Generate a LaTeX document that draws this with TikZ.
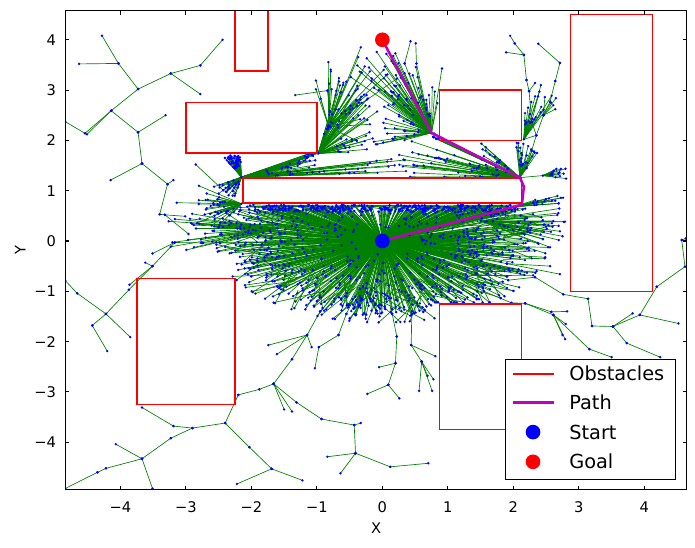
\documentclass[tikz,border=0pt]{standalone}
\usepackage{fontspec}
\setmainfont{DejaVu Sans}
\definecolor{treegreen}{RGB}{0,128,0}
\definecolor{pathmag}{RGB}{191,0,191}

% random fan of branches from a hub: mode (0 branches, 1 vertices), hub, angle range, length range, count
\newcommand\spray[7]{%
  \foreach \k in {1,...,#7}{%
    \pgfmathsetmacro\ang{(#3)+((#4)-(#3))*rnd}%
    \pgfmathsetmacro\len{(#5)+((#6)-(#5))*rnd}%
    \ifnum#1=0 \draw[branch] (#2) -- ++(\ang:\len);%
    \else \fill[vert] (#2) ++(\ang:\len) circle (1pt);\fi
  }}

% the dense part of the tree
\newcommand\treepass[1]{%
  \foreach \k in {1,...,850}{%
    \pgfmathsetmacro\ang{360*rnd}%
    \pgfmathsetmacro\rr{0.15+0.85*sqrt(rnd)}%
    \pgfmathsetmacro\sx{2.35*\rr*cos(\ang)}%
    \pgfmathsetmacro\sy{min(1.5*\rr*sin(\ang),0.72-0.14*rnd)}%
    \pgfmathsetmacro\sy{\sx>0.8 ? max(\sy,-1.22) : \sy}%
    \ifnum#1=0 \draw[branch] (s) -- (\sx,\sy);%
    \else \fill[vert] (\sx,\sy) circle (1pt);\fi
  }%
  \foreach \k in {1,...,300}{%
    \pgfmathsetmacro\ang{360*rnd}%
    \pgfmathsetmacro\ra{0.45+0.4*rnd}%
    \pgfmathsetmacro\rb{min(\ra+0.15+0.35*rnd,1.08)}%
    \pgfmathsetmacro\ab{\ang-15+30*rnd}%
    \pgfmathsetmacro\ax{2.35*\ra*cos(\ang)}%
    \pgfmathsetmacro\ay{min(1.5*\ra*sin(\ang),0.7)}%
    \pgfmathsetmacro\ay{\ax>0.8 ? max(\ay,-1.22) : \ay}%
    \pgfmathsetmacro\bx{2.35*\rb*cos(\ab)}%
    \pgfmathsetmacro\by{min(1.5*\rb*sin(\ab),0.72-0.1*rnd)}%
    \pgfmathsetmacro\by{\bx>0.8 ? max(\by,-1.22) : \by}%
    \ifnum#1=0 \draw[branch] (\ax,\ay) -- (\bx,\by);%
    \else \fill[vert] (\bx,\by) circle (1pt);\fi
  }%
  \spray{#1}{lu}{92}{125}{0.2}{0.47}{55}%
  \spray{#1}{lu}{3}{22}{0.4}{1.2}{35}%
  \spray{#1}{lu}{2}{9}{1.2}{2.6}{18}%
  \spray{#1}{lu}{200}{258}{0.1}{0.5}{30}%
  \spray{#1}{lu}{21}{25}{1.05}{1.18}{10}%
  \spray{#1}{lc}{150}{235}{0.2}{0.8}{35}%
  \spray{#1}{h0}{40}{80}{0.4}{1.5}{28}%
  \spray{#1}{h0}{0}{35}{0.3}{0.9}{18}%
  \spray{#1}{h0}{70}{76}{0.5}{0.58}{10}%
  \spray{#1}{h1}{40}{105}{0.3}{1.5}{32}%
  \spray{#1}{g0}{100}{140}{0.4}{1.9}{50}%
  \spray{#1}{g0}{140}{200}{0.2}{0.9}{25}%
  \spray{#1}{g0}{88}{100}{0.3}{1.0}{10}%
  \spray{#1}{rc}{152}{180}{0.3}{1.9}{45}%
  \spray{#1}{rc}{130}{152}{0.2}{0.9}{20}%
  \spray{#1}{rc}{146}{149}{1.45}{1.6}{10}%
  \spray{#1}{rc}{60}{100}{0.2}{0.7}{25}%
  \spray{#1}{rk}{60}{90}{0.3}{1.0}{22}%
  \spray{#1}{rm}{-10}{35}{0.1}{0.38}{18}%
  \spray{#1}{rr}{0}{22}{0.3}{0.8}{18}%
  \spray{#1}{ra}{-30}{12}{0.6}{1.3}{30}%
  \spray{#1}{la}{165}{200}{0.6}{1.7}{35}%
  \spray{#1}{lb}{235}{305}{0.2}{0.7}{20}%
}

\newcommand\treenodes{s/0/0, t/0/4, lu/-2.15/1.27, lc/-2.15/0.74, h0/-0.98/1.74, h1/-0.82/2.27,
  g0/0.75/2.15, rc/2.1/1.26, rk/2.16/2.02, rm/2.45/1.3, rr/2.0/0.68, ra/1.5/0.4, la/-1.6/0.25,
  lb/-0.3/-0.9, p1/2.13/0.72, p2/2.16/1.08,
  k1/-2.58/0.75, k2/-2.43/1.01, k3/-2.74/-0.04, k5/-0.95/-1.40, k6/-0.55/-1.45, k7/0.15/-1.45,
  k8/0.45/-1.40, k9/1.55/-1.0, k11/1.9/-0.45, k12/2.2/1.45,
  a1/-4.28/4.08, a2/-4.03/3.53, a3/-4.63/3.52, a4/-3.73/3.02, a5/-3.23/3.33, a6/-2.78/3.49,
  a7/-2.44/4.00, a8/-2.78/2.92, a9/-4.14/2.59, a10/-4.54/2.14, a11/-4.51/2.12, a12/-4.84/2.37,
  a13/-3.73/2.16, a14/-3.31/2.50, a15/-3.67/1.54, a16/-4.15/1.21, a17/-3.28/1.13, a18/-3.19/1.21,
  a19/-3.40/0.53, a20/-3.32/0.52, a21/-3.01/0.49, a22/-2.96/0.14, a23/-3.14/0.76, a24/-2.85/1.52,
  a25/-3.17/-0.03, a26/-3.51/-0.25,
  b1/-4.84/-0.79, b2/-4.66/-1.04, b3/-4.22/-1.45, b4/-3.85/-1.91, b5/-4.43/-1.68, b6/-4.20/-2.19,
  b7/-3.87/-0.97, b8/-3.86/-0.87, b9/-3.51/-0.50, b10/-3.62/-0.43,
  b11/-3.67/-3.31, b12/-3.19/-3.68, b13/-2.90/-3.72, b14/-2.40/-3.62, b15/-2.20/-3.06,
  b16/-1.88/-2.95, b17/-2.03/-4.10, b18/-3.23/-3.92, b19/-3.67/-4.33, b20/-4.07/-4.04,
  b21/-3.51/-4.92, b22/-4.22/-4.52, b23/-4.35/-4.60, b24/-4.84/-4.92, b25/-2.22/-4.83,
  c1/-1.15/-1.87, c2/-1.38/-2.35, c3/-1.66/-2.84, c5/-1.50/-3.35, c6/-1.38/-3.39, c7/-1.31/-3.21,
  c8/-0.93/-3.54, c9/-0.43/-3.66, c10/-0.33/-3.62, c11/-0.41/-4.22, c12/-0.84/-4.29,
  c13/-0.64/-4.62, c14/0.12/-4.49, c15/0.70/-4.42, c16/-1.69/-4.53, c17/-1.22/-4.76,
  c19/0.09/-2.86, c20/0.20/-2.43, c21/-0.05/-2.51, c22/-0.23/-3.04, c23/0.26/-3.13,
  c24/0.22/-1.90, c25/0.60/-2.40, c26/0.44/-2.07, c27/0.56/-2.98, c28/0.76/-2.98,
  c29/0.78/-2.75, c30/0.69/-2.68, c31/0.81/-2.29, c32/-1.03/-2.53, c33/-0.97/-2.11,
  c34/-1.08/-2.11, c35/-1.61/-2.25, c36/-0.67/-1.87, c38/-1.74/-2.07,
  d1/1.97/-1.23, d2/2.18/-1.24, d3/2.58/-1.41, d4/2.82/-1.40, d5/2.61/-1.47, d6/2.80/-1.65,
  d7/2.75/-1.87, d8/2.79/-1.95, d9/3.16/-2.15, d10/2.76/-1.06, d11/3.14/-1.15, d12/3.20/-1.69,
  d13/3.52/-1.70, d14/3.73/-2.03, d15/3.82/-1.44, d16/3.93/-1.47, d17/4.52/-1.64,
  d18/4.19/-0.91, d19/4.62/-0.51, d20/4.24/-2.31, d21/3.50/-2.31, d22/2.71/-0.66,
  d23/2.56/-0.50, d24/2.33/-0.72, d25/1.92/-0.78, d26/4.57/0.02, d27/4.63/0.05,
  e1/2.38/3.92, e2/2.71/3.54, e3/2.64/3.18, e4/2.56/2.77, e5/2.65/2.84, e6/2.46/2.50,
  e7/1.95/4.08, e8/2.02/3.93, e9/2.16/3.70, e10/2.20/3.20, e11/2.33/3.14, e12/2.42/3.10,
  e13/2.24/2.98, e14/2.48/2.86, e15/2.28/2.37, e16/2.61/2.70, e17/2.64/2.62, e18/1.89/3.75,
  e19/2.35/2.10,
  f1/-0.33/3.85, f2/-1.33/2.90, f3/-0.84/2.99, f4/-0.80/2.57, f5/-0.19/3.37, f6/-0.27/3.47,
  f7/-0.24/2.90, f8/-0.19/2.32, f9/-0.34/2.42, f10/-0.39/1.99, f11/-0.55/3.17, f12/-0.60/3.10,
  f13/-0.40/2.80,
  g1/0.43/3.97, g2/0.51/3.93, g3/0.34/3.53, g4/0.52/3.53, g5/0.91/3.43, g6/0.80/2.97,
  g7/0.84/2.74, g8/0.04/2.97, g9/0.09/2.70, g10/0.04/2.24, g11/0.19/2.07, g12/0.17/3.53,
  g13/0.06/3.72}

\newcommand\treeedges{a1/a2, a3/a2, a2/a4, a4/a5, a5/a6, a6/a7, a5/a8, a4/a9, a9/a10, a9/a11,
  a10/a12, a9/a13, a13/a14, a13/a15, a15/a16, a15/a17, a17/a18, a17/a19, a19/a20, a20/a21,
  a20/a22, a23/k1, k1/lc, a24/k2, k2/lu, a25/k3, k3/s, a26/a25,
  b1/b2, b2/b3, b3/b4, b3/b5, b5/b6, b3/b7, b7/b9, b8/b9, b10/b9, b9/a25,
  b11/b12, b12/b13, b13/b14, b14/b15, b15/b16, b14/b17, b13/b18, b18/b19, b20/b19, b19/b21,
  b19/b22, b22/b23, b23/b24, b25/c16,
  c1/c2, c2/c3, c3/b16, c3/c5, c3/c6, c3/c7, c7/c8, c8/c9, c9/c10, c9/c11, c11/c12, c11/c13,
  c11/c14, c14/c15, b17/c16, c16/c17, c19/c20, c20/c21, c19/c22, c19/c23, c20/c24, c26/c25,
  c25/c27, c25/c28, c25/c29, c25/c30, c26/c31, c33/c32, c1/c34, c1/c35, c1/c38, c33/c36,
  c1/k5, k5/s, c36/k6, k6/s, c24/k7, k7/s, c26/k8, k8/s,
  d1/d2, d2/d3, d3/d4, d2/d5, d5/d6, d5/d7, d5/d8, d5/d9, d9/d21, d24/d10, d10/d11, d11/d12,
  d12/d13, d13/d14, d13/d15, d13/d16, d16/d17, d16/d18, d18/d19, d19/d26, d26/d27, d14/d20,
  d1/k9, k9/s, d24/d25, d25/s, d22/k11, d23/k11, k11/s,
  e1/e2, e2/e3, e3/e4, e4/e6, e5/e6, e16/e6, e17/e6, e14/e6, e6/e19, e7/e8, e8/e9, e18/e9,
  e9/e10, e10/e13, e11/e13, e12/e15, e13/e15, e15/e19, e19/k12, k12/rc, rk/e19,
  f2/f3, f3/f4, f4/h1, h1/f1, h1/f5, h1/f6, h1/f7, h1/f8, h1/f9, h1/f10, h1/f11, h1/f12, h1/f13,
  h0/h1, lu/h0,
  g0/g3, g3/g1, g0/g4, g4/g2, g0/g5, g0/g6, g0/g7, g0/g8, g0/g9, g0/g10, g0/g11, g0/g12,
  g12/g13, rc/g0, g0/t, s/p1, p1/p2, p2/rc, rc/rm,
  s/la, s/lb, s/ra, s/rr}

\begin{document}
\begin{tikzpicture}[x=49.125pt,y=37.725pt,
  branch/.style={draw=treegreen,line width=0.5pt},
  vert/.style={fill=blue},
  obst/.style={color=red,line width=1.15pt},
  route/.style={color=pathmag,line width=1.9pt,line join=round},
  startdot/.style={circle,fill=blue,inner sep=0pt,minimum size=11pt},
  goaldot/.style={circle,fill=red,inner sep=0pt,minimum size=11pt},
  axis/.style={draw=black,line width=0.8pt},
  ticklab/.style={font=\fontsize{11}{13}\selectfont,inner sep=1pt},
  legtext/.style={font=\fontsize{14.5}{17}\selectfont,anchor=west,inner sep=0pt}]
\useasboundingbox (-5.838,-6.103) rectangle (4.773,4.791);

\coordinate (ll) at (-4.84,-4.95);
\coordinate (ur) at (4.65,4.58);
\foreach \n/\x/\y in \treenodes {\coordinate (\n) at (\x,\y);}

% tree and its vertices inside the axes
\begin{scope}
\clip (ll) rectangle (ur);
\pgfmathsetseed{2718}
\treepass{0}
\foreach \u/\v in \treeedges {\draw[branch] (\u) -- (\v);}
\pgfmathsetseed{2718}
\treepass{1}
\foreach \u/\v in \treeedges {\fill[vert] (\u) circle (1pt) (\v) circle (1pt);}
\end{scope}

% obstacles, one path
\begin{scope}
\clip (ll) rectangle (ur);
\draw[obst] (-2.25,3.375) rectangle (-1.75,5)
  (-3,1.75) rectangle (-1,2.75)
  (-2.125,0.75) rectangle (2.125,1.25)
  (0.875,2) rectangle (2.125,3)
  (2.875,-1) rectangle (4.125,4.5)
  (-3.75,-3.25) rectangle (-2.25,-0.75)
  (0.875,-3.75) rectangle (2.125,-1.25);
\end{scope}

% path found
\draw[route] (s) -- (p1) -- (p2) -- (rc) -- (g0) -- (t);
\node[startdot] (start) at (s) {};
\node[goaldot] (goal) at (t) {};

% axes
\draw[axis] (ll) rectangle (ur);
\foreach \v/\lab [count=\i] in {-4/−4,-3/−3,-2/−2,-1/−1,0/0,1/1,2/2,3/3,4/4}{
  \draw[axis] (\v,-4.95) -- ++(0,3pt) (\v,4.58) -- ++(0,-3pt);
  \draw[axis] (-4.84,\v) -- ++(3pt,0) (4.65,\v) -- ++(-3pt,0);
  \node[ticklab] (xt\i) at (\v,-5.29) {\lab};
  \node[ticklab,anchor=east] (yt\i) at (-4.96,\v) {\lab};
}
\node[ticklab] (xlab) at (-0.095,-5.71) {X};
\node[ticklab,rotate=90] (ylab) at (-5.53,-0.185) {Y};

% legend
\draw[axis,fill=white] (1.88,-2.35) rectangle (4.48,-4.75);
\draw[obst] (1.99,-2.64) -- (2.62,-2.64);
\node[legtext] (lobs) at (2.85,-2.64) {Obstacles};
\draw[route] (1.99,-3.21) -- (2.62,-3.21);
\node[legtext] (lpath) at (2.85,-3.21) {Path};
\node[startdot] (lsdot) at (2.30,-3.80) {};
\node[legtext] (lstart) at (2.85,-3.80) {Start};
\node[goaldot] (lgdot) at (2.30,-4.39) {};
\node[legtext] (lgoal) at (2.85,-4.39) {Goal};
\end{tikzpicture}
\end{document}
